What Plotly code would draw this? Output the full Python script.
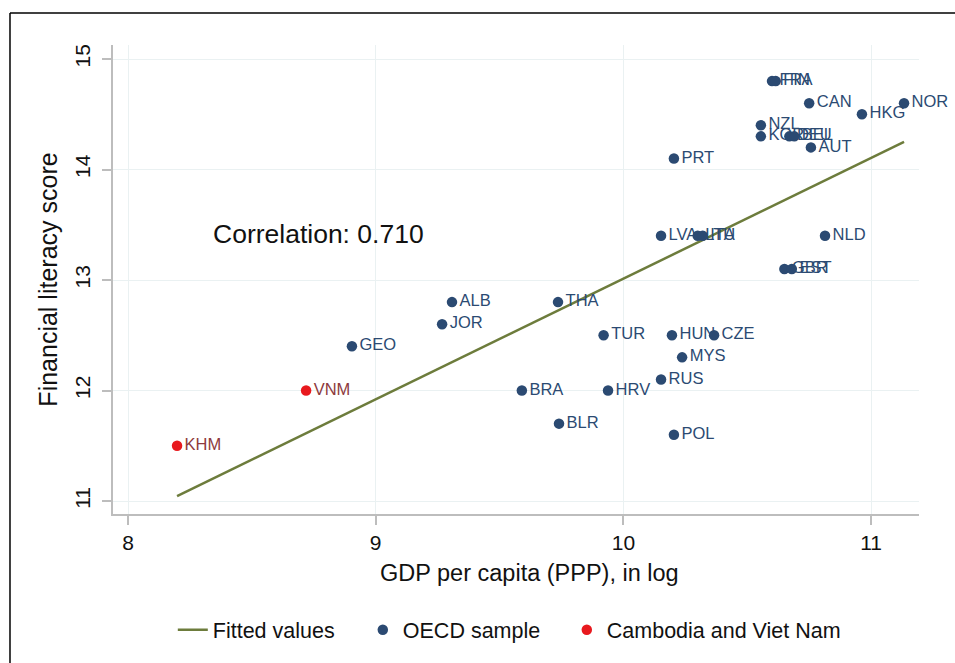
import plotly.graph_objects as go

# ---- data ----
oecd_codes = ["FRA", "FIN", "CAN", "HKG", "NOR", "NZL", "KOR", "DEU", "BEL", "AUT",
              "PRT", "NLD", "GBR", "EST", "LVA", "LTU", "ITA", "THA", "ALB", "JOR",
              "GEO", "BRA", "BLR", "TUR", "HUN", "CZE", "MYS", "RUS", "HRV", "POL"]
oecd_gdp = [10.60, 10.615, 10.75, 10.963, 11.133, 10.555, 10.555, 10.67, 10.69, 10.757,
            10.204, 10.814, 10.65, 10.68, 10.152, 10.30, 10.32, 9.736, 9.308, 9.268,
            8.904, 9.59, 9.74, 9.92, 10.196, 10.366, 10.237, 10.152, 9.938, 10.204]
oecd_score = [14.8, 14.8, 14.6, 14.5, 14.6, 14.4, 14.3, 14.3, 14.3, 14.2,
              14.1, 13.4, 13.1, 13.1, 13.4, 13.4, 13.4, 12.8, 12.8, 12.6,
              12.4, 12.0, 11.7, 12.5, 12.5, 12.5, 12.3, 12.1, 12.0, 11.6]

focus_codes = ["KHM", "VNM"]
focus_gdp = [8.198, 8.719]
focus_score = [11.5, 12.0]

fit_gdp = [8.198, 11.133]
fit_score = [11.045, 14.249]

x_ticks = [8, 9, 10, 11]
y_ticks = [11, 12, 13, 14, 15]
x_title = "GDP per capita (PPP), in log"
y_title = "Financial literacy score"
correlation_text = "Correlation: 0.710"

# ---- styling ----
FONT = "Liberation Sans, Arial, sans-serif"
NAVY = "#2b4a72"
RED = "#e8191e"
LABEL_RED = "#8e3a3d"
OLIVE = "#6d7c3c"
AXIS = "#bdbdbd"
GRID = "#eaf1f2"

fig = go.Figure()

fig.add_trace(go.Scatter(
    x=fit_gdp, y=fit_score, mode="lines", name="Fitted values",
    line=dict(color=OLIVE, width=2.5), legendwidth=145, hoverinfo="skip"))

fig.add_trace(go.Scatter(
    x=oecd_gdp, y=oecd_score, mode="markers+text", name="OECD sample",
    text=oecd_codes, textposition="middle right",
    textfont=dict(family=FONT, size=16.5, color=NAVY),
    marker=dict(color=NAVY, size=10.5), legendwidth=159, cliponaxis=False))

fig.add_trace(go.Scatter(
    x=focus_gdp, y=focus_score, mode="markers+text", name="Cambodia and Viet Nam",
    text=focus_codes, textposition="middle right",
    textfont=dict(family=FONT, size=16.5, color=LABEL_RED),
    marker=dict(color=RED, size=10.5), cliponaxis=False))

fig.add_annotation(x=8.335, y=13.416, xref="x", yref="y", text=correlation_text,
                   showarrow=False, xanchor="left", yanchor="middle",
                   font=dict(family=FONT, size=26.5, color="#111111"))

# x-axis title (centred slightly right of the plot area, as in the reference)
fig.add_annotation(x=0.517, y=-0.1258, xref="paper", yref="paper", text=x_title,
                   showarrow=False, xanchor="center", yanchor="middle",
                   font=dict(family=FONT, size=23.5, color="#111111"))

# outer frame: only top and left edges are visible in the reference
fig.add_shape(type="line", xref="paper", yref="paper",
              x0=-0.1278, x1=1.2, y0=1.0682, y1=1.0682,
              line=dict(color="black", width=1.5), layer="below")
fig.add_shape(type="line", xref="paper", yref="paper",
              x0=-0.1278, x1=-0.1278, y0=-0.5, y1=1.0682,
              line=dict(color="black", width=1.5), layer="below")

axis_common = dict(showline=True, linecolor=AXIS, linewidth=1.5,
                   ticks="outside", ticklen=9, tickwidth=1.5, tickcolor=AXIS,
                   showgrid=True, gridcolor=GRID, gridwidth=1, zeroline=False,
                   tickfont=dict(family=FONT, size=21, color="#111111"),
                   automargin=False)

fig.update_layout(
    width=955, height=663,
    margin=dict(l=113, r=36, t=45, b=149),
    paper_bgcolor="white", plot_bgcolor="white",
    font=dict(family=FONT, color="#111111"),
    xaxis=dict(range=[7.9394, 11.1934], tickvals=x_ticks, **axis_common),
    yaxis=dict(range=[10.8824, 15.1267], tickvals=y_ticks, tickangle=-90,
               ticklabelstandoff=4,
               title=dict(text=y_title, font=dict(family=FONT, size=25), standoff=6),
               **axis_common),
    showlegend=True,
    legend=dict(orientation="h", x=0.0742, y=-0.247, xanchor="left", yanchor="middle",
                font=dict(family=FONT, size=21.5, color="#111111"),
                bgcolor="rgba(0,0,0,0)"),
)

fig.write_html("out.html", config={"displayModeBar": False},
               post_script="document.body.style.margin='0';document.body.style.overflow='hidden';")
